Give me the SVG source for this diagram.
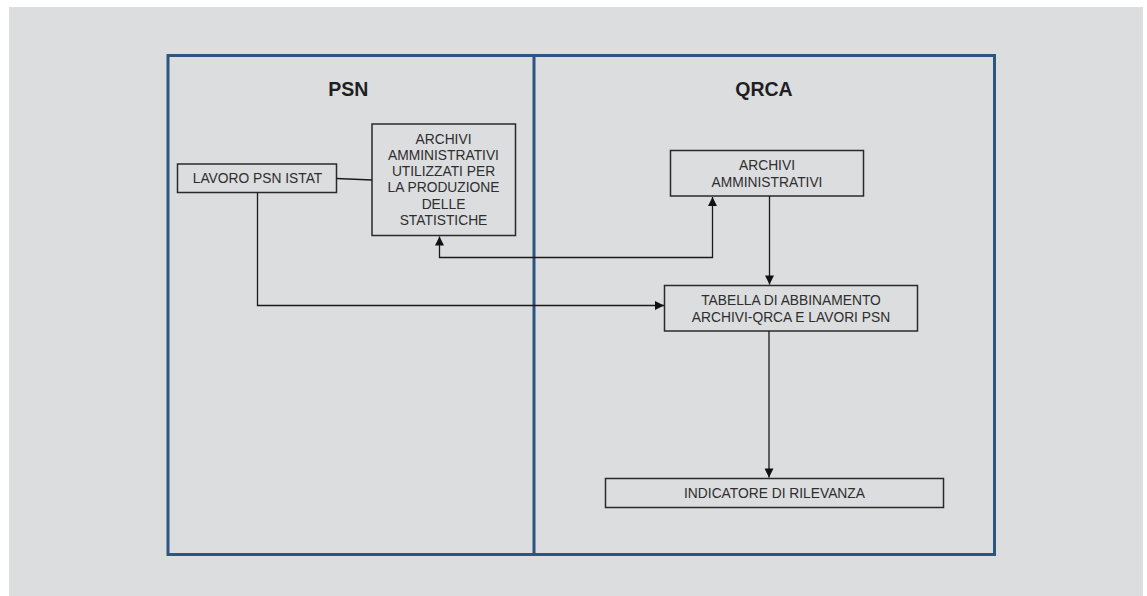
<svg xmlns="http://www.w3.org/2000/svg" width="1147" height="596" viewBox="0 0 1147 596">
  <defs>
    <marker id="arrow" viewBox="0 0 10 10" refX="10" refY="5" markerWidth="10" markerHeight="9" markerUnits="userSpaceOnUse" orient="auto-start-reverse">
      <path d="M0,0 L10,5 L0,10 Z" fill="#111"/>
    </marker>
    <style>
      .bg { fill: #dcdddf; }
      .frame { fill: none; stroke: #2c5582; stroke-width: 3; }
      .box { fill: none; stroke: #2a2a2a; stroke-width: 1.5; }
      .label { font-family: "Liberation Sans", Arial, sans-serif; font-size: 13.8px; fill: #2e2e2e; text-anchor: middle; }
      .title { font-family: "Liberation Sans", Arial, sans-serif; font-size: 19.5px; font-weight: bold; fill: #1f1f1f; text-anchor: middle; }
      .wire { fill: none; stroke: #1a1a1a; stroke-width: 1.3; }
    </style>
  </defs>

  <rect x="0" y="0" width="1147" height="596" fill="#ffffff"/>
  <rect class="bg" x="9" y="7" width="1134" height="589"/>

  <!-- swimlane frame -->
  <g id="lanes">
    <rect class="frame" x="168" y="55.5" width="826.5" height="499"/>
    <line class="frame" x1="534" y1="55.5" x2="534" y2="554.5"/>
    <text class="title" x="348.3" y="95.7">PSN</text>
    <text class="title" x="764" y="95.7">QRCA</text>
  </g>

  <g id="lavoro-psn">
    <rect class="box" x="177.5" y="164" width="159" height="28.5"/>
    <text class="label" x="257.5" y="183.3">LAVORO PSN ISTAT</text>
  </g>

  <g id="archivi-psn">
    <rect class="box" x="372" y="124" width="143.5" height="111.5"/>
    <text class="label" x="443.5" y="143.5">ARCHIVI</text>
    <text class="label" x="443.5" y="159.8">AMMINISTRATIVI</text>
    <text class="label" x="443.5" y="176.1">UTILIZZATI PER</text>
    <text class="label" x="443.5" y="192.4">LA PRODUZIONE</text>
    <text class="label" x="443.5" y="208.7">DELLE</text>
    <text class="label" x="443.5" y="225">STATISTICHE</text>
  </g>

  <g id="archivi-qrca">
    <rect class="box" x="670.5" y="150.5" width="193" height="45.5"/>
    <text class="label" x="767" y="169.5">ARCHIVI</text>
    <text class="label" x="767" y="186.5">AMMINISTRATIVI</text>
  </g>

  <g id="tabella">
    <rect class="box" x="664.5" y="285.5" width="253" height="45.5"/>
    <text class="label" x="791" y="305">TABELLA DI ABBINAMENTO</text>
    <text class="label" x="791" y="322">ARCHIVI-QRCA E LAVORI PSN</text>
  </g>

  <g id="indicatore">
    <rect class="box" x="605.5" y="478.5" width="338" height="29"/>
    <text class="label" x="774.5" y="497.5">INDICATORE DI RILEVANZA</text>
  </g>

  <g id="connectors">
    <line class="wire" x1="336.5" y1="178.5" x2="372" y2="180"/>
    <polyline class="wire" points="439.5,236.5 439.5,257.5 712.5,257.5 712.5,197" marker-start="url(#arrow)" marker-end="url(#arrow)"/>
    <polyline class="wire" points="257.5,192.5 257.5,305.5 664,305.5" marker-end="url(#arrow)"/>
    <line class="wire" x1="769.5" y1="196" x2="769.5" y2="284.5" marker-end="url(#arrow)"/>
    <line class="wire" x1="769" y1="331" x2="769" y2="477.5" marker-end="url(#arrow)"/>
  </g>
</svg>
